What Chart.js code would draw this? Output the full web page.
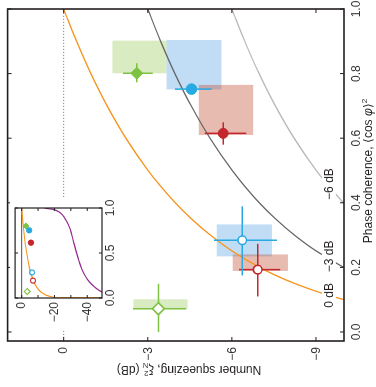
<!DOCTYPE html>
<html>
<head>
<meta charset="utf-8">
<script src="https://cdn.jsdelivr.net/npm/chart.js@4.4.0/dist/chart.umd.min.js"></script>
<style>
  html, body { margin: 0; padding: 0; background: #fff; overflow: hidden; }
  /* the figure is drawn upright, then turned a quarter turn to the left */
  #wrap { position: absolute; left: 0; top: 0; width: 387px; height: 376px;
          transform-origin: 0 0; transform: translateY(387px) rotate(-90deg); }
  #main { position: absolute; left: 0; top: 0; }
  #inset { position: absolute; left: 57px; top: 10px; background: #fff; }
</style>
</head>
<body>
<div id="wrap">
  <canvas id="main" width="387" height="376"></canvas>
  <canvas id="inset" width="132" height="110"></canvas>
</div>
<script>
// measured points: phase coherence <cos phi>^2 and number squeezing (dB)
const cohVals  = [0.801, 0.752, 0.615, 0.284, 0.193, 0.072];
const dbVals   = [-2.61, -4.56, -5.69, -6.37, -6.92, -3.38];
const cohErrLo = [0.773, 0.740, 0.580, 0.175, 0.110, 0.000];
const cohErrHi = [0.832, 0.765, 0.649, 0.389, 0.273, 0.149];
const dbErrLo  = [-3.18, -5.28, -6.51, -7.61, -7.73, -4.36];
const dbErrHi  = [-2.12, -3.97, -5.03, -5.36, -6.25, -2.47];

// shaded ranges behind each point
const boxCohLo = [0.801, 0.751, 0.610, 0.234, 0.189, 0.070];
const boxCohHi = [0.902, 0.904, 0.765, 0.333, 0.240, 0.101];
const boxDbLo  = [-3.67, -5.63, -6.76, -7.43, -8.00, -4.42];
const boxDbHi  = [-1.74, -3.67, -4.82, -5.46, -6.03, -2.49];

// constant-squeezing contours (0, -3, -6 dB)
const contourCoh = [0.09, 0.1, 0.12, 0.15, 0.175, 0.2, 0.25, 0.3, 0.35, 0.4, 0.45, 0.5, 0.6, 0.7, 0.8, 0.9, 1.0];
const contour0  = [-10.46, -10.0, -9.21, -8.24, -7.57, -6.99, -6.02, -5.23, -4.56, -3.98, -3.47, -3.01, -2.22, -1.55, -0.97, -0.46, 0];
const contour3  = [-13.46, -13.0, -12.21, -11.24, -10.57, -9.99, -9.02, -8.23, -7.56, -6.98, -6.47, -6.01, -5.22, -4.55, -3.97, -3.46, -3.0];
const contour6  = [-16.46, -16.0, -15.21, -14.24, -13.57, -12.99, -12.02, -11.23, -10.56, -9.98, -9.47, -9.01, -8.22, -7.55, -6.97, -6.46, -6.0];
const contourNames = ['0 dB', '\u22123 dB', '\u22126 dB'];
const contourLabelCoh = [0.113, 0.234, 0.458];
const contourLabelDb = -9.46;

// inset: wide range view
const insetOrangeCoh = [0.00001, 0.0001, 0.001, 0.002, 0.005, 0.01, 0.02, 0.03, 0.05, 0.07, 0.1, 0.15, 0.2, 0.3, 0.4, 0.6, 0.8, 1.0];
const insetOrangeDb  = [-50, -40, -30, -27, -23, -20, -17, -15.2, -13, -11.5, -10, -8.2, -7, -5.2, -4, -2.2, -0.97, 0];
const insetPurpleCoh = [0.065, 0.10, 0.13, 0.165, 0.21, 0.27, 0.33, 0.41, 0.50, 0.60, 0.67, 0.74, 0.79, 0.85, 0.895, 0.93, 0.965, 0.985, 0.998];
const insetPurpleDb  = [-49, -46, -44, -42, -40, -38, -36.5, -35, -33.5, -32, -31, -30, -29, -27.5, -26, -24.5, -22, -19, -14];

// tick labels
const cohTicks = [0, 0.2, 0.4, 0.6, 0.8, 1.0];
const dbTicks = [0, -3, -6, -9];
const insetCohTicks = [0, 0.5, 1.0];
const insetDbTicks = [0, -10, -20, -30, -40];
const insetDbLabels = [0, -20, -40];

// styles
const pointColors = ['#7dc242', '#27a9e1', '#c1272d', '#27a9e1', '#c1272d', '#7dc242'];
const boxColors = ['rgba(130,190,50,0.3)', 'rgba(100,170,230,0.4)', 'rgba(190,70,40,0.37)',
                   'rgba(100,170,230,0.4)', 'rgba(190,70,40,0.37)', 'rgba(130,190,50,0.3)'];
const pointFilled = [true, true, true, false, false, false];
const pointShapes = ['rectRot', 'circle', 'circle', 'circle', 'circle', 'rectRot'];

const FONT = '"Liberation Sans", Arial, Helvetica, sans-serif';
const INK = '#231f20';

function fmtDb(v) { return v === 0 ? '0' : '\u2212' + Math.abs(v); }

function lineSet(data, color, width, extra) {
  return Object.assign({ data, showLine: true, borderColor: color, borderWidth: width,
    pointRadius: 0, fill: false, order: 2 }, extra || {});
}

function markerSet(radius, border) {
  return {
    data: cohVals.map((c, i) => ({ x: c, y: dbVals[i] })),
    showLine: false,
    pointStyle: pointShapes,
    pointRadius: radius,
    pointBackgroundColor: pointColors.map((c, i) => pointFilled[i] ? c : '#fff'),
    pointBorderColor: pointColors,
    pointBorderWidth: border,
    order: 0
  };
}

// draws text pieces centred on (cx, cy); a piece with "stack" is a sup/sub pair
function drawParts(ctx, parts, cx, cy) {
  const widths = parts.map(p => {
    ctx.font = p.font;
    if (p.stack) return Math.max(...p.stack.map(s => ctx.measureText(s[0]).width));
    return ctx.measureText(p.text).width;
  });
  let x = cx - widths.reduce((a, b) => a + b, 0) / 2;
  ctx.textAlign = 'left';
  ctx.textBaseline = 'middle';
  parts.forEach((p, i) => {
    ctx.font = p.font;
    if (p.stack) p.stack.forEach(s => ctx.fillText(s[0], x, cy + s[1]));
    else ctx.fillText(p.text, x, cy + (p.dy || 0));
    x += widths[i];
  });
}

function drawFrame(ctx, area, xs, ys, xTicks, yTicks, len, width) {
  ctx.save();
  ctx.strokeStyle = INK;
  ctx.lineWidth = width;
  ctx.strokeRect(area.left, area.top, area.right - area.left, area.bottom - area.top);
  ctx.lineWidth = 1;
  ctx.beginPath();
  xTicks.forEach(v => {
    const px = xs.getPixelForValue(v);
    ctx.moveTo(px, area.bottom); ctx.lineTo(px, area.bottom - len);
    ctx.moveTo(px, area.top); ctx.lineTo(px, area.top + len);
  });
  yTicks.forEach(v => {
    const py = ys.getPixelForValue(v);
    ctx.moveTo(area.left, py); ctx.lineTo(area.left + len, py);
    ctx.moveTo(area.right, py); ctx.lineTo(area.right - len, py);
  });
  ctx.stroke();
  ctx.restore();
}

const mainDecor = {
  id: 'mainDecor',
  beforeDatasetsDraw(chart) {
    const { ctx, scales: { x, y } } = chart;
    ctx.save();
    boxCohLo.forEach((c, i) => {
      const x1 = x.getPixelForValue(c), x2 = x.getPixelForValue(boxCohHi[i]);
      const y1 = y.getPixelForValue(boxDbHi[i]), y2 = y.getPixelForValue(boxDbLo[i]);
      ctx.fillStyle = boxColors[i];
      ctx.fillRect(x1, y1, x2 - x1, y2 - y1);
    });
    ctx.restore();
  },
  afterDatasetsDraw(chart) {
    const { ctx, chartArea: area, scales: { x, y } } = chart;
    ctx.save();
    // contour labels sit on a white patch that cuts the curve
    ctx.font = '12px ' + FONT;
    contourNames.forEach((t, i) => {
      const px = x.getPixelForValue(contourLabelCoh[i]), py = y.getPixelForValue(contourLabelDb);
      const w = ctx.measureText(t).width;
      ctx.fillStyle = '#fff';
      ctx.fillRect(px - w / 2 - 3, py - 7, w + 6, 14);
      ctx.fillStyle = INK;
      ctx.textAlign = 'center';
      ctx.textBaseline = 'middle';
      ctx.fillText(t, px, py + 0.5);
    });
    ctx.restore();

    drawFrame(ctx, area, x, y, cohTicks, dbTicks, 4, 1.6);

    ctx.save();
    ctx.fillStyle = '#333';
    ctx.font = '12px ' + FONT;
    ctx.textAlign = 'center';
    ctx.textBaseline = 'middle';
    cohTicks.forEach(v => ctx.fillText(v.toFixed(1), x.getPixelForValue(v), area.bottom + 12.5));
    ctx.textAlign = 'right';
    dbTicks.forEach(v => ctx.fillText(fmtDb(v), area.left - 6, y.getPixelForValue(v) + 0.5));

    ctx.fillStyle = INK;
    const f = '12px ' + FONT, s = '8px ' + FONT;
    drawParts(ctx, [
      { text: 'Phase coherence, \u27e8cos ', font: f },
      { text: '\u03c6', font: 'italic 12px ' + FONT },
      { text: '\u27e9', font: f },
      { text: '2', font: s, dy: -4 }
    ], 216, 369);
    ctx.translate(18, 189);
    ctx.rotate(-Math.PI / 2);
    drawParts(ctx, [
      { text: 'Number squeezing, \u03be', font: f },
      { stack: [['2', -4], ['N', 4]], font: s },
      { text: ' (dB)', font: f }
    ], 0, 0);
    ctx.restore();
  }
};

const insetDecor = {
  id: 'insetDecor',
  afterDatasetsDraw(chart) {
    const { ctx, chartArea: area, scales: { x, y } } = chart;
    drawFrame(ctx, area, x, y, insetCohTicks, insetDbTicks, 3, 1.2);
    ctx.save();
    ctx.fillStyle = '#333';
    ctx.font = '12px ' + FONT;
    ctx.textAlign = 'center';
    ctx.textBaseline = 'middle';
    insetCohTicks.forEach(v => ctx.fillText(v.toFixed(1), x.getPixelForValue(v), area.bottom + 8.5));
    ctx.textAlign = 'right';
    insetDbLabels.forEach(v => ctx.fillText(fmtDb(v), area.left - 4, y.getPixelForValue(v) + 0.5));
    ctx.restore();
  }
};

const baseOptions = (padding, xr, yr) => ({
  responsive: false,
  animation: false,
  devicePixelRatio: 1,
  events: [],
  layout: { padding },
  scales: {
    x: { type: 'linear', min: xr[0], max: xr[1], display: false },
    y: { type: 'linear', min: yr[0], max: yr[1], display: false }
  },
  plugins: { legend: { display: false }, tooltip: { enabled: false } }
});

// main plot
const errorSets = [];
cohVals.forEach((c, i) => {
  errorSets.push(lineSet([{ x: cohErrLo[i], y: dbVals[i] }, { x: cohErrHi[i], y: dbVals[i] }], pointColors[i], 1.5, { order: 1 }));
  errorSets.push(lineSet([{ x: c, y: dbErrLo[i] }, { x: c, y: dbErrHi[i] }], pointColors[i], 1.5, { order: 1 }));
});
const smooth = { cubicInterpolationMode: 'monotone' };

new Chart(document.getElementById('main'), {
  type: 'scatter',
  data: {
    datasets: [
      markerSet([6, 5.3, 5, 4.3, 4.3, 6], [1, 1, 1, 1.6, 1.6, 1.6]),
      ...errorSets,
      lineSet(contourCoh.map((c, i) => ({ x: c, y: contour0[i] })), '#f7941d', 1.3, smooth),
      lineSet(contourCoh.map((c, i) => ({ x: c, y: contour3[i] })), '#666666', 1.3, smooth),
      lineSet(contourCoh.map((c, i) => ({ x: c, y: contour6[i] })), '#b8b8b8', 1.3, smooth),
      lineSet([{ x: -0.028, y: 0 }, { x: 1.0, y: 0 }], '#666666', 0.8, { borderDash: [1.2, 1.8], order: 3 })
    ]
  },
  options: baseOptions({ left: 46, top: 6, right: 9, bottom: 32 }, [-0.028, 1.0], [-10, 2]),
  plugins: [mainDecor]
});

// inset
new Chart(document.getElementById('inset'), {
  type: 'scatter',
  data: {
    datasets: [
      markerSet([3, 2.7, 2.7, 2.5, 2.5, 3], [1, 1, 1, 1.1, 1.1, 1.1]),
      lineSet(insetOrangeCoh.map((c, i) => ({ x: c, y: insetOrangeDb[i] })), '#f7941d', 1.2),
      lineSet(insetPurpleCoh.map((c, i) => ({ x: c, y: insetPurpleDb[i] })), '#93278f', 1.2, smooth),
      lineSet([{ x: 0, y: 0 }, { x: 1, y: 0 }], '#555555', 1, { order: 3 })
    ]
  },
  options: baseOptions({ left: 32, top: 5, right: 10, bottom: 18 }, [0, 1], [-49, 4]),
  plugins: [insetDecor]
});
</script>
</body>
</html>
